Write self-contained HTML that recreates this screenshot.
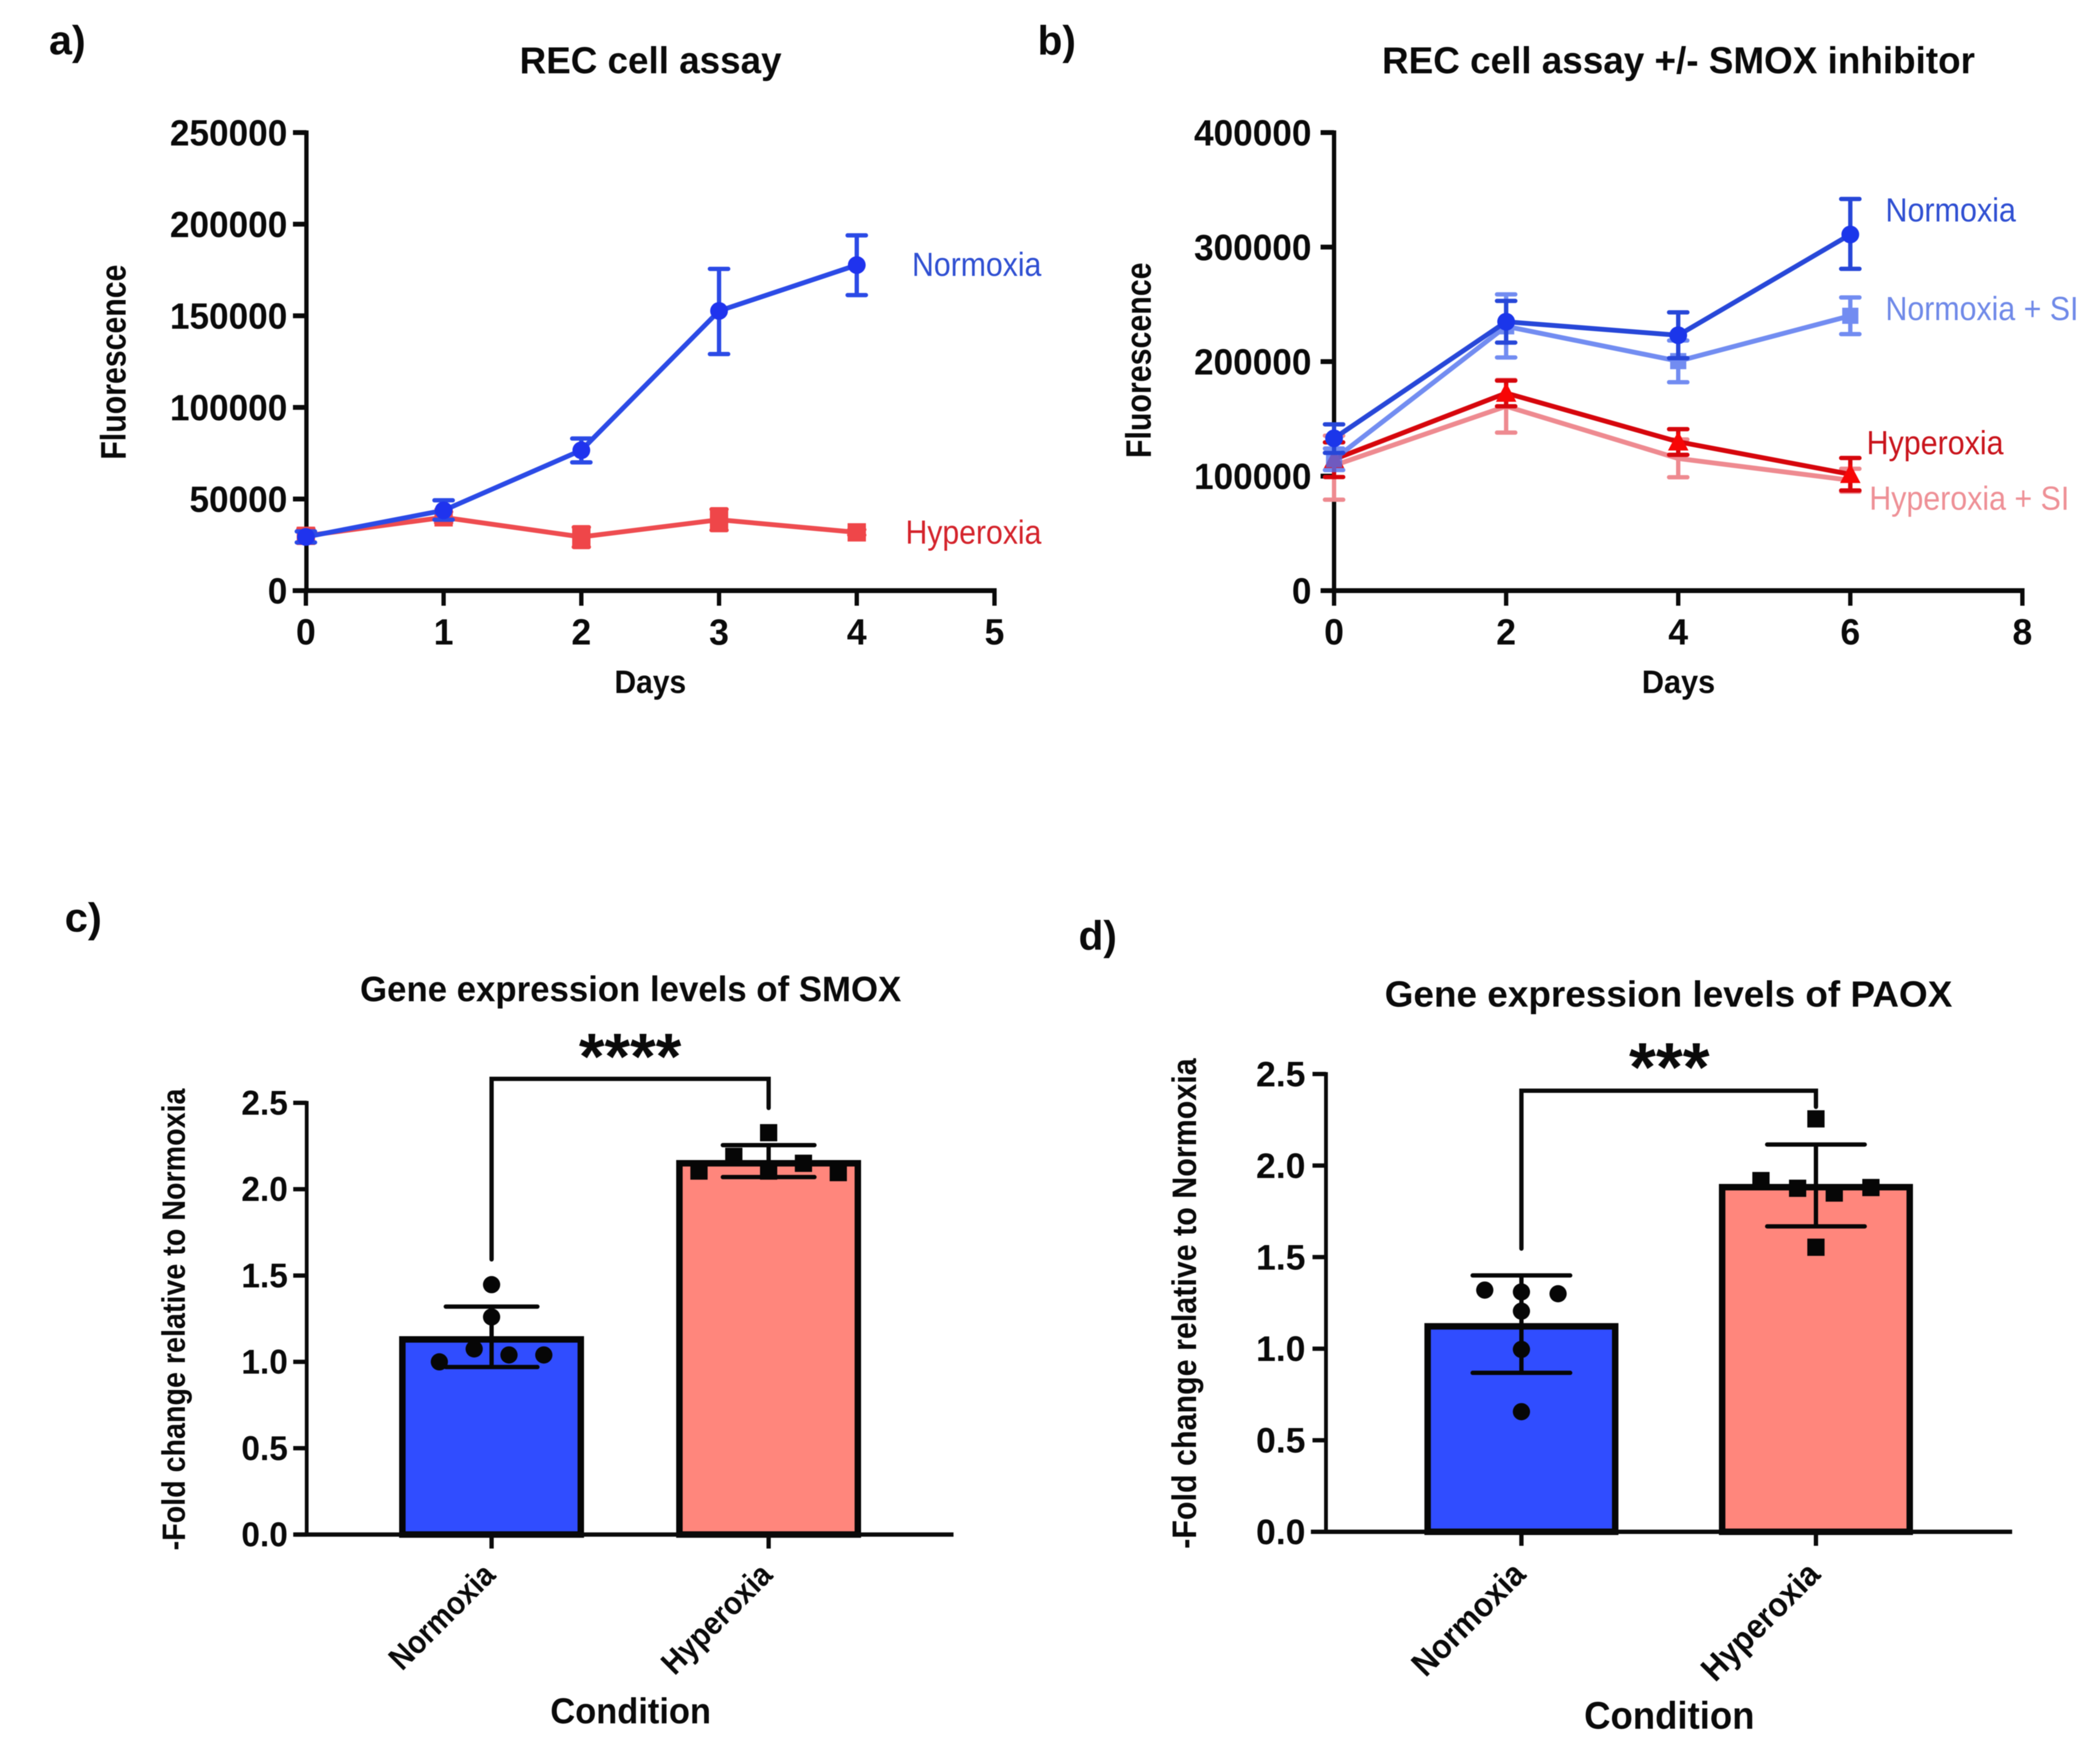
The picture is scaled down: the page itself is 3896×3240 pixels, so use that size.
<!DOCTYPE html>
<html lang="en">
<head>
<meta charset="utf-8">
<title>REC cell assay and gene expression figure</title>
<style>
  html, body { margin: 0; padding: 0; background: #fff; }
  svg { display: block; filter: blur(0.7px); }
  text { font-family: "Liberation Sans", Arial, sans-serif; fill: #0a0a0a; }
  .b { font-weight: 700; }
</style>
</head>
<body>
<svg id="figure" xmlns="http://www.w3.org/2000/svg" width="3896" height="3240" viewBox="0 0 3896 3240">
  <rect x="0" y="0" width="3896" height="3240" fill="#fff"/>

  <text class="b" x="91" y="101" font-size="76" textLength="68" lengthAdjust="spacingAndGlyphs">a)</text>
  <text class="b" x="964" y="136" font-size="70" textLength="486" lengthAdjust="spacingAndGlyphs">REC cell assay</text>
  <text class="b" transform="translate(233,853) rotate(-90)" font-size="66" textLength="362" lengthAdjust="spacingAndGlyphs">Fluorescence</text>
  <text class="b" x="1140" y="1286" font-size="60" textLength="133" lengthAdjust="spacingAndGlyphs">Days</text>
  <text x="1692" y="512" font-size="62" style="fill:#2f4fd2" textLength="240" lengthAdjust="spacingAndGlyphs">Normoxia</text>
  <text x="1680" y="1009" font-size="62" style="fill:#d4232b" textLength="252" lengthAdjust="spacingAndGlyphs">Hyperoxia</text>

  <text class="b" x="1925" y="101" font-size="76" textLength="71" lengthAdjust="spacingAndGlyphs">b)</text>
  <text class="b" x="2564" y="136" font-size="70" textLength="1100" lengthAdjust="spacingAndGlyphs">REC cell assay +/- SMOX inhibitor</text>
  <text class="b" transform="translate(2135,850) rotate(-90)" font-size="66" textLength="363" lengthAdjust="spacingAndGlyphs">Fluorescence</text>
  <text class="b" x="3046" y="1286" font-size="60" textLength="136" lengthAdjust="spacingAndGlyphs">Days</text>
  <text x="3498" y="411" font-size="62" style="fill:#2f4fd2" textLength="242" lengthAdjust="spacingAndGlyphs">Normoxia</text>
  <text x="3498" y="594" font-size="62" style="fill:#6f89e8" textLength="358" lengthAdjust="spacingAndGlyphs">Normoxia + SI</text>
  <text x="3463" y="843" font-size="62" style="fill:#c9141c" textLength="254" lengthAdjust="spacingAndGlyphs">Hyperoxia</text>
  <text x="3468" y="946" font-size="62" style="fill:#ee9096" textLength="371" lengthAdjust="spacingAndGlyphs">Hyperoxia + SI</text>

  <text class="b" x="120" y="1729" font-size="76" textLength="69" lengthAdjust="spacingAndGlyphs">c)</text>
  <text class="b" x="668" y="1858" font-size="66" textLength="1004" lengthAdjust="spacingAndGlyphs">Gene expression levels of SMOX</text>
  <text class="b" x="1169" y="2002" font-size="122" text-anchor="middle">****</text>
  <text class="b" transform="translate(343,2877) rotate(-90)" font-size="60" textLength="857" lengthAdjust="spacingAndGlyphs">-Fold change relative to Normoxia</text>
  <text class="b" x="1021" y="3198" font-size="67" textLength="298" lengthAdjust="spacingAndGlyphs">Condition</text>

  <text class="b" x="2001" y="1762" font-size="76" textLength="71" lengthAdjust="spacingAndGlyphs">d)</text>
  <text class="b" x="2569" y="1868" font-size="68" textLength="1053" lengthAdjust="spacingAndGlyphs">Gene expression levels of PAOX</text>
  <text class="b" x="3097" y="2024" font-size="128" text-anchor="middle">***</text>
  <text class="b" transform="translate(2219,2874) rotate(-90)" font-size="63" textLength="910" lengthAdjust="spacingAndGlyphs">-Fold change relative to Normoxia</text>
  <text class="b" x="2939" y="3208" font-size="71" textLength="316" lengthAdjust="spacingAndGlyphs">Condition</text>

  <g id="plots"></g>
</svg>

<script>
// ---- Panel a data ----
const aDayTicks = [0, 1, 2, 3, 4, 5];
const aValueTicks = [0, 50000, 100000, 150000, 200000, 250000];
const aDays = [0, 1, 2, 3, 4];
const aNormoxia = [29300, 43800, 76600, 152650, 177700];
const aNormoxiaErrUp = [3000, 5500, 6400, 22950, 16200];
const aNormoxiaErrDown = [3000, 5100, 6600, 23550, 16400];
const aHyperoxia = [29900, 40000, 29300, 38700, 31800];
const aHyperoxiaErrUp = [3800, 3000, 5300, 5700, 1500];
const aHyperoxiaErrDown = [3800, 3000, 5500, 5700, 1500];

// ---- Panel b data ----
const bDayTicks = [0, 2, 4, 6, 8];
const bValueTicks = [0, 100000, 200000, 300000, 400000];
const bDays = [0, 2, 4, 6];
const bNormoxia = [133000, 234800, 223000, 311000];
const bNormoxiaErrUp = [12200, 18200, 20000, 31000];
const bNormoxiaErrDown = [12700, 18200, 20000, 30000];
const bNormoxiaSI = [114700, 230800, 200400, 240000];
const bNormoxiaSIErrUp = [9400, 27900, 18000, 16000];
const bNormoxiaSIErrDown = [9400, 27200, 18400, 16000];
const bHyperoxia = [114600, 172500, 130000, 101600];
const bHyperoxiaErrUp = [14900, 10900, 11000, 14200];
const bHyperoxiaErrDown = [15400, 11500, 11400, 14100];
const bHyperoxiaSI = [109300, 161000, 115400, 96400];
const bHyperoxiaSIErrUp = [26000, 23000, 16600, 10000];
const bHyperoxiaSIErrDown = [29900, 23000, 16400, 10000];

// ---- Panel c data ----
const cValueTicks = [0, 0.5, 1, 1.5, 2, 2.5];
const cValueTickLabels = ['0.0', '0.5', '1.0', '1.5', '2.0', '2.5'];
const cCategories = ['Normoxia', 'Hyperoxia'];
const cMeans = [1.13, 2.15];
const cErrUp = [0.19, 0.105];
const cErrDown = [0.16, 0.08];
const cNormoxiaPoints = [1.0, 1.075, 1.26, 1.447, 1.04, 1.04];
const cNormoxiaSlots = [-3, -1, 0, 0, 1, 3];
const cHyperoxiaPoints = [2.105, 2.19, 2.327, 2.105, 2.15, 2.096];
const cHyperoxiaSlots = [-4, -2, 0, 0, 2, 4];

// ---- Panel d data ----
const dValueTicks = [0, 0.5, 1, 1.5, 2, 2.5];
const dValueTickLabels = ['0.0', '0.5', '1.0', '1.5', '2.0', '2.5'];
const dCategories = ['Normoxia', 'Hyperoxia'];
const dMeans = [1.122, 1.882];
const dErrUp = [0.278, 0.233];
const dErrDown = [0.254, 0.214];
const dNormoxiaPoints = [1.32, 1.31, 1.30, 1.205, 0.996, 0.656];
const dNormoxiaSlots = [-2, 0, 2, 0, 0, 0];
const dHyperoxiaPoints = [1.918, 1.876, 1.85, 1.88, 2.255, 1.554];
const dHyperoxiaSlots = [-3, -1, 1, 3, 0, 0];

const SVG_NS = 'http://www.w3.org/2000/svg';
const plots = document.getElementById('plots');

function make(parent, tag, attrs) {
  const node = document.createElementNS(SVG_NS, tag);
  for (const key in attrs) node.setAttribute(key, attrs[key]);
  parent.appendChild(node);
  return node;
}

function linear(d0, d1, r0, r1) {
  return v => r0 + (v - d0) * (r1 - r0) / (d1 - d0);
}

function tickText(parent, x, y, label, size, stretch, anchor) {
  const t = make(parent, 'text', {
    class: 'b',
    transform: 'translate(' + x + ',' + y + ') scale(' + stretch + ',1)',
    'font-size': size,
    'text-anchor': anchor
  });
  t.textContent = label;
  return t;
}

function drawAxes(name, o) {
  const g = make(plots, 'g', {});
  
  
  const yAxis = make(g, 'line', { x1: o.left, x2: o.left, y1: o.top - o.w / 2, y2: o.bottom, stroke: '#0a0a0a', 'stroke-width': o.w });
  
  
  const xAxis = make(g, 'line', { x1: o.xStart, x2: o.xEnd, y1: o.bottom, y2: o.bottom, stroke: '#0a0a0a', 'stroke-width': o.w + 1 });
  
  
  o.yTicks.forEach((v, i) => {
    const y = o.yScale(v);
    const tick = make(g, 'line', { x1: o.left - 25, x2: o.left, y1: y, y2: y, stroke: '#0a0a0a', 'stroke-width': o.w + 1 });
    
    
    const lab = tickText(g, o.yLabelRight, y + o.yLabelDrop, o.yLabels ? o.yLabels[i] : String(v), o.size, o.stretch, 'end');
    
    
  });
}

function drawXTicks(name, ticks, xScale, bottom, labelY, size, stretch) {
  const g = make(plots, 'g', {});
  
  
  ticks.forEach(v => {
    const x = xScale(v);
    const tick = make(g, 'line', { x1: x, x2: x, y1: bottom, y2: bottom + 28, stroke: '#0a0a0a', 'stroke-width': 8 });
    
    
    const lab = tickText(g, x, labelY, String(v), size, stretch, 'middle');
    
    
  });
}

function drawMarker(parent, kind, x, y, color, size) {
  if (kind === 'circle') {
    return make(parent, 'circle', { cx: x, cy: y, r: size / 2, fill: color });
  }
  if (kind === 'square') {
    return make(parent, 'rect', { x: x - size / 2, y: y - size / 2, width: size, height: size, fill: color });
  }
  const h = size * 0.95;
  const pts = (x - size / 2) + ',' + (y + h * 0.45) + ' ' + (x + size / 2) + ',' + (y + h * 0.45) + ' ' + x + ',' + (y - h * 0.55);
  return make(parent, 'polygon', { points: pts, fill: color });
}

function drawSeries(name, days, vals, up, down, xScale, yScale, style) {
  const g = make(plots, 'g', { opacity: style.opacity || 1 });
  
  
  const capW = style.capW || 42;
  days.forEach((d, i) => {
    const x = xScale(d);
    const yu = yScale(vals[i] + up[i]);
    const yd = yScale(vals[i] - down[i]);
    const stem = make(g, 'line', { x1: x, x2: x, y1: yu, y2: yd, stroke: style.color, 'stroke-width': 8 });
    
    
    const capTop = make(g, 'line', { x1: x - capW / 2 + 4, x2: x + capW / 2 - 4, y1: yu, y2: yu, stroke: style.color, 'stroke-width': 8, 'stroke-linecap': 'round' });
    
    
    const capBottom = make(g, 'line', { x1: x - capW / 2 + 4, x2: x + capW / 2 - 4, y1: yd, y2: yd, stroke: style.color, 'stroke-width': 8, 'stroke-linecap': 'round' });
    
    
  });
  const path = make(g, 'polyline', {
    points: days.map((d, i) => xScale(d) + ',' + yScale(vals[i])).join(' '),
    fill: 'none',
    stroke: style.line || style.color,
    'stroke-width': 9,
    'stroke-linejoin': 'round'
  });
  
  
  days.forEach((d, i) => {
    const m = drawMarker(g, style.marker, xScale(d), yScale(vals[i]), style.markerColor || style.color, style.size);
    
    
  });
}

function drawBarPanel(name, o) {
  const centers = o.centers;
  const g = make(plots, 'g', {});
  
  
  o.means.forEach((m, i) => {
    const top = o.yScale(m);
    const bar = make(g, 'rect', {
      x: centers[i] - o.barW / 2, y: top, width: o.barW, height: o.bottom - top,
      fill: o.fills[i], stroke: '#060606', 'stroke-width': 12
    });
    
    

    const tick = make(g, 'line', { x1: centers[i], x2: centers[i], y1: o.bottom, y2: o.bottom + 26, stroke: '#0a0a0a', 'stroke-width': 8 });
    
    

    const lab = make(g, 'text', {
      class: 'b',
      transform: 'translate(' + (centers[i] + o.labelDx) + ',' + o.labelY + ') rotate(-45) scale(' + o.labelStretch + ',1)',
      'font-size': o.labelSize,
      'text-anchor': 'end'
    });
    lab.textContent = o.categories[i];
    
    
  });
  [o.pointsN, o.pointsH].forEach((pts, i) => {
    const slots = i === 0 ? o.slotsN : o.slotsH;
    pts.forEach((v, j) => {
      const x = centers[i] + slots[j] * o.slotW;
      const y = o.yScale(v);
      const dot = drawMarker(g, i === 0 ? 'circle' : 'square', x, y, '#060606', o.dot);
      
      
    });
  });
  o.means.forEach((m, i) => {
    const yu = o.yScale(m + o.errUp[i]);
    const yd = o.yScale(m - o.errDown[i]);
    const stem = make(g, 'line', { x1: centers[i], x2: centers[i], y1: yu, y2: yd, stroke: '#060606', 'stroke-width': 8 });
    
    
    const capTop = make(g, 'line', { x1: centers[i] - o.capW / 2 + 4, x2: centers[i] + o.capW / 2 - 4, y1: yu, y2: yu, stroke: '#060606', 'stroke-width': 8, 'stroke-linecap': 'round' });
    
    
    const capBottom = make(g, 'line', { x1: centers[i] - o.capW / 2 + 4, x2: centers[i] + o.capW / 2 - 4, y1: yd, y2: yd, stroke: '#060606', 'stroke-width': 8, 'stroke-linecap': 'round' });
    
    
  });
  const br = make(g, 'polyline', {
    points: centers[0] + ',' + o.bracketLeft + ' ' + centers[0] + ',' + o.bracketTop + ' ' + centers[1] + ',' + o.bracketTop + ' ' + centers[1] + ',' + o.bracketRight,
    fill: 'none', stroke: '#0a0a0a', 'stroke-width': 8, 'stroke-linecap': 'round', 'stroke-linejoin': 'miter'
  });
  
  
}

// ---- Panel a ----
const ax = linear(0, 5, 567.5, 1845);
const ay = linear(0, 250000, 1096, 246);
drawAxes('panel-a', { left: 568.5, top: 246, bottom: 1096, xStart: 543, xEnd: 1849, w: 8, yTicks: aValueTicks, yScale: ay, yLabelRight: 533, yLabelDrop: 24, size: 68, stretch: 0.96 });
drawXTicks('panel-a', aDayTicks, ax, 1096, 1196, 68, 0.97);
drawSeries('panel-a-hyperoxia', aDays, aHyperoxia, aHyperoxiaErrUp, aHyperoxiaErrDown, ax, ay, { color: '#ef4649', line: '#ee4c50', marker: 'square', size: 34, capW: 36 });
drawSeries('panel-a-normoxia', aDays, aNormoxia, aNormoxiaErrUp, aNormoxiaErrDown, ax, ay, { color: '#2b4ae6', markerColor: '#1f33ee', marker: 'circle', size: 33, capW: 42 });

// ---- Panel b ----
const bx = linear(0, 8, 2475, 3752);
const by = linear(0, 400000, 1096, 246);
drawAxes('panel-b', { left: 2475, top: 246, bottom: 1096, xStart: 2450, xEnd: 3756, w: 8, yTicks: bValueTicks, yScale: by, yLabelRight: 2433, yLabelDrop: 24, size: 68, stretch: 0.96 });
drawXTicks('panel-b', bDayTicks, bx, 1096, 1196, 68, 0.97);
drawSeries('panel-b-hyperoxia-si', bDays, bHyperoxiaSI, bHyperoxiaSIErrUp, bHyperoxiaSIErrDown, bx, by, { color: '#ee8a90', marker: 'circle', size: 11, capW: 42 });
drawSeries('panel-b-hyperoxia', bDays, bHyperoxia, bHyperoxiaErrUp, bHyperoxiaErrDown, bx, by, { color: '#d6060c', markerColor: '#f70606', marker: 'triangle', size: 38, capW: 42 });
drawSeries('panel-b-normoxia-si', bDays, bNormoxiaSI, bNormoxiaSIErrUp, bNormoxiaSIErrDown, bx, by, { color: '#4f70ee', marker: 'square', size: 30, capW: 42, opacity: 0.8 });
drawSeries('panel-b-normoxia', bDays, bNormoxia, bNormoxiaErrUp, bNormoxiaErrDown, bx, by, { color: '#2747d8', markerColor: '#1b36ea', marker: 'circle', size: 33, capW: 42 });

// ---- Panel c ----
const cy = linear(0, 2.5, 2847.6, 2046.5);
drawBarPanel('panel-c', {
  means: cMeans, errUp: cErrUp, errDown: cErrDown, categories: cCategories,
  centers: [912, 1426], barW: 331, bottom: 2847.6, yScale: cy,
  fills: ['#304dff', '#ff867c'],
  pointsN: cNormoxiaPoints, slotsN: cNormoxiaSlots, pointsH: cHyperoxiaPoints, slotsH: cHyperoxiaSlots,
  slotW: 32.3, dot: 32, capW: 178, labelDx: 10, labelY: 2926, labelSize: 60, labelStretch: 0.9,
  bracketLeft: 2337, bracketTop: 2002, bracketRight: 2056
});
drawAxes('panel-c', { left: 569, top: 2046.5, bottom: 2847.6, xStart: 547, xEnd: 1769, w: 7, yTicks: cValueTicks, yLabels: cValueTickLabels, yScale: cy, yLabelRight: 534, yLabelDrop: 22, size: 64, stretch: 0.97 });

// ---- Panel d ----
const dy = linear(0, 2.5, 2842.5, 1993);
drawBarPanel('panel-d', {
  means: dMeans, errUp: dErrUp, errDown: dErrDown, categories: dCategories,
  centers: [2822.6, 3369], barW: 348, bottom: 2842.5, yScale: dy,
  fills: ['#304dff', '#ff867c'],
  pointsN: dNormoxiaPoints, slotsN: dNormoxiaSlots, pointsH: dHyperoxiaPoints, slotsH: dHyperoxiaSlots,
  slotW: 34, dot: 32, capW: 189, labelDx: 11, labelY: 2925, labelSize: 63, labelStretch: 0.92,
  bracketLeft: 2317, bracketTop: 2024, bracketRight: 2054
});
drawAxes('panel-d', { left: 2460, top: 1993, bottom: 2842.5, xStart: 2432, xEnd: 3733, w: 7, yTicks: dValueTicks, yLabels: dValueTickLabels, yScale: dy, yLabelRight: 2422, yLabelDrop: 23, size: 66, stretch: 1 });
</script>
</body>
</html>
